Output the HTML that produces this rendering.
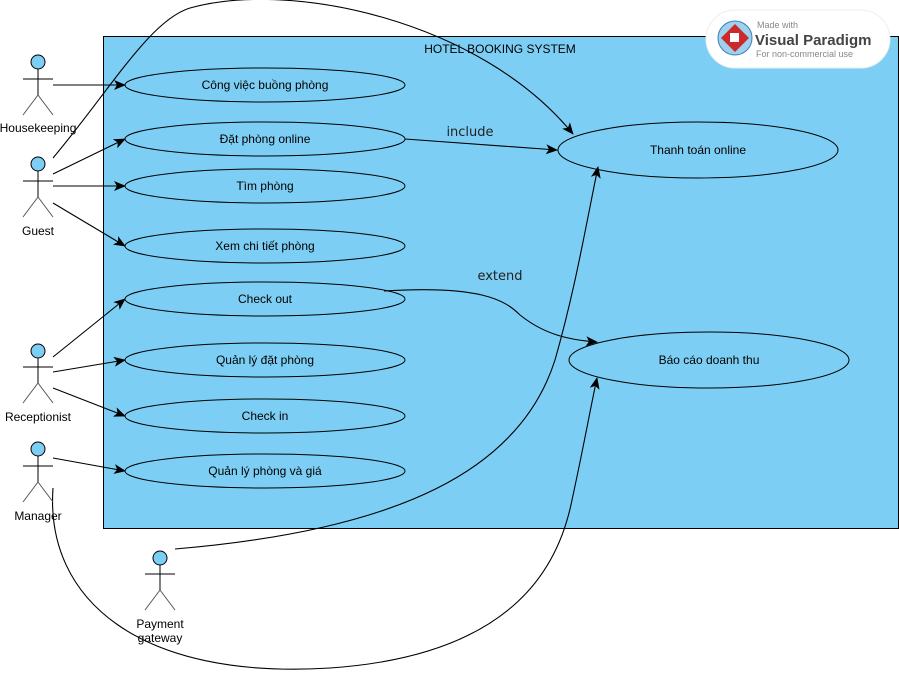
<!DOCTYPE html>
<html><head><meta charset="utf-8"><style>
html,body{margin:0;padding:0;background:#fff;width:899px;height:674px;overflow:hidden}
svg{display:block}
text{font-family:"Liberation Sans","DejaVu Sans",sans-serif;font-size:12px;fill:#000}
</style></head><body>
<svg width="899" height="674" viewBox="0 0 899 674" xmlns="http://www.w3.org/2000/svg">
<defs>
<marker id="a" markerWidth="12" markerHeight="10" refX="11" refY="5" orient="auto" markerUnits="userSpaceOnUse">
<path d="M0,0 L12,5 L0,10 L3,5 Z" fill="#000"/></marker>
</defs>
<rect x="103.5" y="36.5" width="795" height="492" fill="#7dcef4" stroke="#000"/>
<text x="500" y="53" text-anchor="middle">HOTEL BOOKING SYSTEM</text>

<g fill="#7dcef4" stroke="#000">
<ellipse cx="265" cy="85" rx="140" ry="17"/>
<ellipse cx="265" cy="139" rx="140" ry="17"/>
<ellipse cx="265" cy="186" rx="140" ry="17"/>
<ellipse cx="265" cy="246" rx="140" ry="17"/>
<ellipse cx="265" cy="299" rx="140" ry="17"/>
<ellipse cx="265" cy="360" rx="140" ry="17"/>
<ellipse cx="265" cy="416" rx="140" ry="17"/>
<ellipse cx="265" cy="471" rx="140" ry="17"/>
<ellipse cx="698" cy="150" rx="140" ry="28"/>
<ellipse cx="709" cy="360" rx="140" ry="28"/>
</g>
<g text-anchor="middle">
<text x="265" y="89">Công việc buồng phòng</text>
<text x="265" y="143">Đặt phòng online</text>
<text x="265" y="190">Tìm phòng</text>
<text x="265" y="250">Xem chi tiết phòng</text>
<text x="265" y="303">Check out</text>
<text x="265" y="364">Quản lý đặt phòng</text>
<text x="265" y="420">Check in</text>
<text x="265" y="475">Quản lý phòng và giá</text>
<text x="698" y="154">Thanh toán online</text>
<text x="709" y="364">Báo cáo doanh thu</text>
</g>
<text x="470" y="136" text-anchor="middle" style="font-family:'DejaVu Sans',sans-serif;font-size:13px;fill:#222">include</text>
<text x="500" y="280" text-anchor="middle" style="font-family:'DejaVu Sans',sans-serif;font-size:13px;fill:#222">extend</text>

<g stroke="#000" fill="none" stroke-width="1.1" marker-end="url(#a)">
<line x1="53" y1="85" x2="125" y2="85"/>
<line x1="53" y1="174" x2="125" y2="139"/>
<line x1="53" y1="186" x2="125" y2="186"/>
<line x1="53" y1="203" x2="125" y2="246"/>
<path d="M53,158 C110,90 150,20 190,8 C290,-20 480,20 573,134"/>
<path d="M405,139 L557,150"/>
<path d="M384,291 C480,285 505,300 520,315 C545,335 570,340 597,342"/>
<line x1="53" y1="357" x2="125" y2="299"/>
<line x1="53" y1="372" x2="125" y2="360"/>
<line x1="53" y1="388" x2="125" y2="416"/>
<line x1="53" y1="458" x2="125" y2="471"/>
<path d="M53,488 C45,600 140,680 330,668 C520,655 560,560 572,500 C585,440 590,410 597,378"/>
<path d="M175,549 C400,530 520,470 555,360 C575,290 585,230 598,167"/>
</g>

<g stroke="#000" fill="#7dcef4">
<circle cx="38" cy="62" r="7"/>
<circle cx="38" cy="164" r="7"/>
<circle cx="38" cy="351" r="7"/>
<circle cx="38" cy="449" r="7"/>
<circle cx="160" cy="558" r="7"/>
</g>
<g stroke="#000" fill="none">
<path d="M38,69 V95 M23,79 H53"/><path d="M38,95 L23,115 M38,95 L53,115" stroke="#555"/>
<path d="M38,171 V197 M23,181 H53"/><path d="M38,197 L23,217 M38,197 L53,217" stroke="#555"/>
<path d="M38,358 V383 M23,367 H53"/><path d="M38,383 L23,403 M38,383 L53,403" stroke="#555"/>
<path d="M38,456 V482 M23,466 H53"/><path d="M38,482 L23,502 M38,482 L53,502" stroke="#555"/>
<path d="M160,565 V590 M145,574 H175"/><path d="M160,590 L145,610 M160,590 L175,610" stroke="#555"/>
</g>
<g text-anchor="middle">
<text x="38" y="132">Housekeeping</text>
<text x="38" y="235">Guest</text>
<text x="38" y="421">Receptionist</text>
<text x="38" y="520">Manager</text>
<text x="160" y="628">Payment</text>
<text x="160" y="642">gateway</text>
</g>

<rect x="706" y="10" width="184" height="58" rx="29" fill="#fff" stroke="#eee"/>
<circle cx="735" cy="38" r="17" fill="#9fd0ee" stroke="#3a7fb8"/>
<path d="M735,24 L749,38 L735,52 L721,38 Z" fill="#cc2a2a"/>
<rect x="730" y="33" width="9" height="9" fill="#fff"/>
<text x="757" y="28" style="font-size:9px;fill:#888">Made with</text>
<text x="755" y="45" style="font-size:15px;font-weight:bold;fill:#444">Visual Paradigm</text>
<text x="756" y="57" style="font-size:9px;fill:#888">For non-commercial use</text>
</svg>
</body></html>
